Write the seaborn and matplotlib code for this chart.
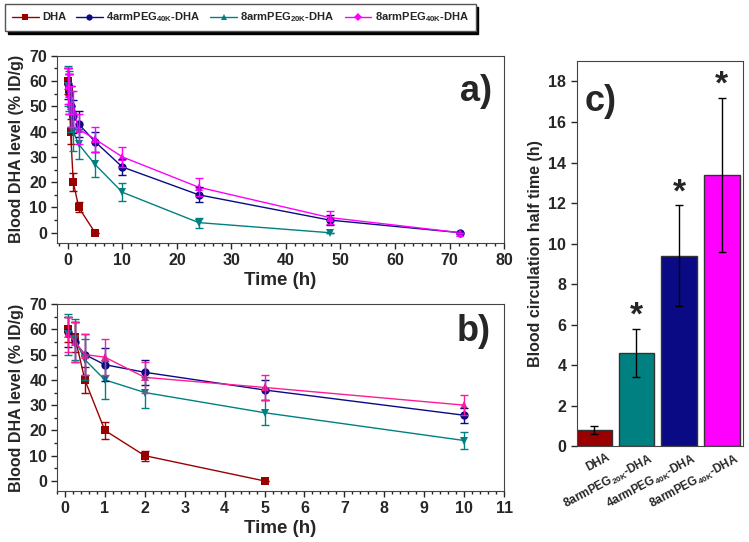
import numpy as np
import pandas as pd
import seaborn as sns
import matplotlib.pyplot as plt
from matplotlib.lines import Line2D
from matplotlib.ticker import MultipleLocator, AutoMinorLocator

# dados
tempo = [0.083, 0.25, 0.5, 1, 2, 5, 10, 24, 48, 72]
grupos = ['DHA', '4armPEG40K-DHA', '8armPEG20K-DHA', '8armPEG40K-DHA']
rotulos = ['DHA', r'4armPEG$_{\mathbf{40K}}$-DHA', r'8armPEG$_{\mathbf{20K}}$-DHA',
           r'8armPEG$_{\mathbf{40K}}$-DHA']

dha_val = [60, 57, 40, 20, 10, 0, np.nan, np.nan, np.nan, np.nan]
dha_err = [5, 6, 5, 3.5, 2, 0, np.nan, np.nan, np.nan, np.nan]
arm4_40_val = [59, 55, 50, 46, 43, 36, 26, 15, 5, 0]
arm4_40_err = [6, 8, 8, 6.5, 5, 4, 3, 3, 2, 0]
arm8_20_val = [58, 56, 48, 40, 35, 27, 16, 4, 0, np.nan]
arm8_20_err = [8, 8, 8, 7.5, 6, 5, 3.5, 2, 0, np.nan]
arm8_40_val = [58, 55, 50, 49, 41, 37, 30, 18, 6, 0]
arm8_40_err = [7, 8, 8, 7, 6, 5, 4, 3.5, 2.5, 0]

# meia-vida (barras)
barras_nomes = ['DHA', '8armPEG20K-DHA', '4armPEG40K-DHA', '8armPEG40K-DHA']
barras_rotulos = ['DHA', r'8armPEG$_{\mathbf{20K}}$-DHA', r'4armPEG$_{\mathbf{40K}}$-DHA',
                  r'8armPEG$_{\mathbf{40K}}$-DHA']
meia_vida = [0.8, 4.6, 9.4, 13.4]
meia_vida_err = [0.2, 1.2, 2.5, 3.8]
asterisco = [False, True, True, True]

cores = {'DHA': '#990000', '4armPEG40K-DHA': '#0a0a85',
         '8armPEG20K-DHA': '#008080', '8armPEG40K-DHA': '#ff00ff'}
cores_b = dict(cores)
cores_b['8armPEG40K-DHA'] = '#ff1a9a'
marcadores = {'DHA': 's', '4armPEG40K-DHA': 'o',
              '8armPEG20K-DHA': 'v', '8armPEG40K-DHA': '^'}
marcadores_leg = {'DHA': 's', '4armPEG40K-DHA': 'o',
                  '8armPEG20K-DHA': '^', '8armPEG40K-DHA': 'D'}

vals = [dha_val, arm4_40_val, arm8_20_val, arm8_40_val]
errs = [dha_err, arm4_40_err, arm8_20_err, arm8_40_err]

linhas = []
for g, v, e in zip(grupos, vals, errs):
    for t, vi, ei in zip(tempo, v, e):
        linhas.append({'tempo': t, 'nivel': vi, 'erro': ei, 'grupo': g})
df = pd.DataFrame(linhas).dropna()

sns.set_style('ticks')
plt.rcParams['font.family'] = ['Liberation Sans', 'DejaVu Sans']
plt.rcParams['font.weight'] = 'bold'
plt.rcParams['axes.labelweight'] = 'bold'
plt.rcParams['mathtext.default'] = 'bf'
plt.rcParams['mathtext.fontset'] = 'custom'
plt.rcParams['mathtext.bf'] = 'Liberation Sans:bold'

fig = plt.figure(figsize=(7.49, 5.42), dpi=100)
ax1 = fig.add_axes([0.076, 0.552, 0.597, 0.345])
ax2 = fig.add_axes([0.076, 0.094, 0.597, 0.345])
ax3 = fig.add_axes([0.770, 0.177, 0.222, 0.710])


def painel(ax, dados, paleta, letra, lx, ly):
    sns.lineplot(data=dados, x='tempo', y='nivel', hue='grupo', style='grupo',
                 palette=paleta, markers=marcadores, dashes=False, errorbar=None,
                 markersize=6, linewidth=1, markeredgewidth=0, legend=False,
                 hue_order=grupos, ax=ax)
    for g in grupos:
        d = dados[dados['grupo'] == g]
        ax.errorbar(d['tempo'], d['nivel'], yerr=d['erro'], fmt='none',
                    ecolor=paleta[g], elinewidth=1, capsize=3, capthick=1)
    ax.set_ylim(-4, 70)
    ax.yaxis.set_major_locator(MultipleLocator(10))
    ax.yaxis.set_minor_locator(MultipleLocator(5))
    ax.set_xlabel('Time (h)', fontsize=13.5, fontweight='bold', labelpad=3)
    ax.set_ylabel('Blood DHA level (% ID/g)', fontsize=11.5, fontweight='bold')
    ax.tick_params(labelsize=11.5, width=1, length=4, pad=3)
    ax.tick_params(which='minor', width=1, length=2)
    for s in ax.spines.values():
        s.set_visible(True)
        s.set_color('#444444')
    ax.text(lx, ly, letra, transform=ax.transAxes, ha='right', va='top',
            fontsize=26, fontweight='bold')


painel(ax1, df, cores, 'a)', 0.973, 0.905)
ax1.set_xlim(-2, 80)
ax1.xaxis.set_major_locator(MultipleLocator(10))
ax1.xaxis.set_minor_locator(AutoMinorLocator(6))

painel(ax2, df[df['tempo'] <= 10], cores_b, 'b)', 0.97, 0.945)
ax2.set_xlim(-0.2, 11)
ax2.xaxis.set_major_locator(MultipleLocator(1))
ax2.xaxis.set_minor_locator(AutoMinorLocator(5))

# barras
dfb = pd.DataFrame({'nome': barras_nomes, 'meia': meia_vida, 'err': meia_vida_err})
sns.barplot(data=dfb, x='nome', y='meia', hue='nome', palette=cores, legend=False,
            saturation=1, width=0.84, edgecolor='#333333', linewidth=1, ax=ax3)
pos = np.arange(len(barras_nomes))
ax3.errorbar(pos, meia_vida, yerr=meia_vida_err, fmt='none', ecolor='black',
             elinewidth=1, capsize=3, capthick=1)
for p, m, e, a in zip(pos, meia_vida, meia_vida_err, asterisco):
    if a:
        ax3.text(p, m + e - 0.15, '*', ha='center', va='bottom', fontsize=24,
                 fontweight='bold')
ax3.set_xlim(-0.4, 3.5)
ax3.set_ylim(0, 19)
ax3.yaxis.set_major_locator(MultipleLocator(2))
ax3.set_xlabel('')
ax3.set_ylabel('Blood circulation half time (h)', fontsize=11.5, fontweight='bold')
# rótulos um pouco deslocados para a direita (ticks invisíveis)
ax3.set_xticks(pos + 0.3)
ax3.set_xticklabels(barras_rotulos, rotation=28, ha='right', rotation_mode='anchor',
                    fontsize=8.5)
ax3.tick_params(axis='y', labelsize=11.5, width=1, length=4)
ax3.tick_params(axis='x', length=0, pad=4)
for s in ax3.spines.values():
    s.set_visible(True)
    s.set_color('#444444')
ax3.text(0.05, 0.94, 'c)', transform=ax3.transAxes, ha='left', va='top',
         fontsize=26, fontweight='bold')

# legenda
handles = [Line2D([0], [0], color=cores[g], marker=marcadores_leg[g], markersize=4.5,
                  linewidth=1, markeredgewidth=0) for g in grupos]
leg = fig.legend(handles, rotulos, loc='upper left', bbox_to_anchor=(0.007, 0.993),
                 ncol=4, frameon=True, fancybox=False, borderaxespad=0,
                 shadow={'color': 'black', 'alpha': 1}, fontsize=8,
                 handlelength=2.4, handletextpad=0.3, columnspacing=0.9,
                 borderpad=0.6)
leg.get_frame().set_edgecolor('#555555')

plt.savefig('out.png', dpi=100)
